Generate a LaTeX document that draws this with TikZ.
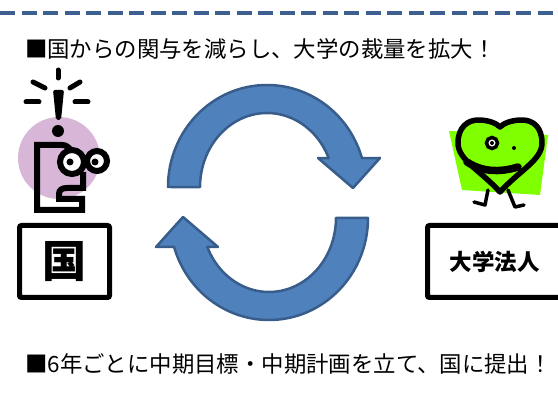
\documentclass[tikz,border=0pt]{standalone}
\usepackage{fontspec}
\setmainfont{Noto Sans CJK JP}
\definecolor{dashblue}{RGB}{62,96,145}
\definecolor{arrowfill}{RGB}{79,129,189}
\definecolor{arrowline}{RGB}{56,93,138}
\definecolor{pink}{RGB}{216,182,216}
\definecolor{lime}{RGB}{128,255,0}

\begin{document}
\begin{tikzpicture}[x=1pt,y=1pt,
  dashline/.style={draw=dashblue,line width=4pt,dash pattern=on 15pt off 6.5pt},
  title/.style={anchor=west,inner sep=0pt,font=\fontsize{22.4}{25}\selectfont},
  box/.style={draw,line width=5pt,rounded corners=2pt,inner sep=0pt,minimum height=72pt},
  ray/.style={line width=5pt,line cap=round},
  ink/.style={line width=6pt},
  cyclearrow/.style={fill=arrowfill,draw=arrowline,line width=2.5pt,line join=round}]
\useasboundingbox (0,0) rectangle (558,405);
\draw[dashline] (0,392) -- (558,392);
\node[title] (toptext) at (25,356) {■国からの関与を減らし、大学の裁量を拡大！};
\node[title] (bottext) at (25,41) {■6年ごとに中期目標・中期計画を立て、国に提出！};
% circular arrows
\path[cyclearrow] (168,218) arc[start angle=180,end angle=16.5,x radius=99,y radius=102]
  -- (380,247) -- (353,217) -- (318,247) -- (328.7,246.9)
  arc[start angle=23,end angle=180,x radius=67,y radius=74] -- cycle;
\path[cyclearrow,rotate around={180:(268,202.5)}] (168,218) arc[start angle=180,end angle=16.5,x radius=99,y radius=102]
  -- (380,247) -- (353,217) -- (318,247) -- (328.7,246.9)
  arc[start angle=23,end angle=180,x radius=67,y radius=74] -- cycle;
% man with the idea
\fill[pink] (59,247) circle (41);
\draw[ray] (58,335) -- (58,327);
\draw[ray] (33,323) -- (45,317);
\draw[ray] (80,323) -- (70,317);
\draw[ray] (26,303) -- (39,303);
\draw[ray] (75,303) -- (88,303);
\fill[rounded corners=2pt] (53,315) -- (64,315) -- (61,285) -- (56,285) -- cycle;
\fill (58,274) circle (6);
\draw[ink] (70,256) .. controls (68,258) and (66,260) .. (62,260) -- (37,260) -- (37,195) -- (82,195)
  -- (82,206) -- (59,206) -- (59,211) .. controls (59,215) and (62,217) .. (67,217) -- (83,217) -- (83,233);
\draw[ink,fill=white] (72,243) circle (12);
\draw[ink,fill=white] (97,244) circle (10);
\draw[ink] (84,244) -- (87,244);
\fill (70,243) circle (3.5);
\fill (95,243) circle (3.5);
% walking heart
\fill[lime] (449,274) -- (548,270) -- (540,210) -- (462,215) -- cycle;
\draw[line width=3.5pt,line cap=round,line join=round] (488,215) -- (485,200) -- (474,203);
\draw[line width=3.5pt,line cap=round,line join=round] (508,215) -- (515,198) -- (524,200);
\draw[line width=5.5pt,fill=lime,line join=round] (500,213) .. controls (480,235) and (458,245) .. (458,262)
  .. controls (458,278) and (468,285) .. (478,285) .. controls (490,285) and (497,281) .. (500,278)
  .. controls (503,281) and (510,285) .. (522,285) .. controls (533,285) and (542,278) .. (542,262)
  .. controls (542,245) and (520,235) .. (500,213) -- cycle;
\draw[line width=3.5pt,fill=white] (492,262) circle (5.5);
\fill (492,262) circle (2);
\fill (514,257) circle (2);
\draw[line width=7.5pt,line cap=round] (467,243) .. controls (485,231) and (505,234) .. (518,238);
% boxes
\node[box,minimum width=90pt,font=\bfseries\fontsize{44}{48}\selectfont] (kuni) at (64.5,143.5) {国};
\node[box,minimum width=134.5pt,font=\bfseries\fontsize{22.5}{26}\selectfont] (hojin) at (494.75,143.5) {大学法人};
\end{tikzpicture}
\end{document}
